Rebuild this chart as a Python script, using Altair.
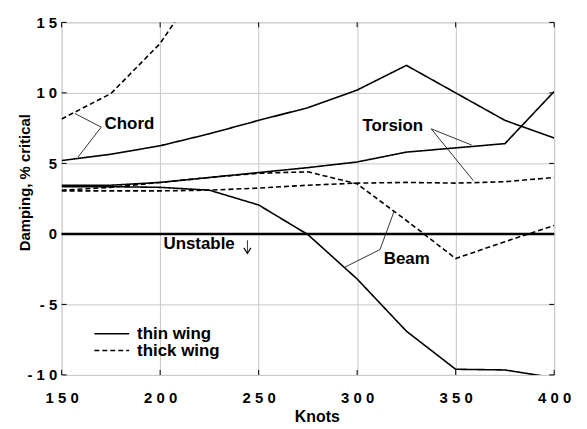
import altair as alt
import pandas as pd

# ---- data ----
knots = [150, 175, 200, 225, 250, 275, 300, 325, 350, 375, 400]
chord_thin = [5.2, 5.65, 6.25, 7.1, 8.05, 8.95, 10.2, 11.95, 10.0, 8.05, 6.8]
torsion_thin = [3.45, 3.45, 3.65, 4.0, 4.35, 4.7, 5.1, 5.8, 6.1, 6.4, 10.1]
beam_thin = [3.35, 3.35, 3.3, 3.1, 2.05, -0.05, -3.2, -6.9, -9.6, -9.65, -10.2]

knots_chord_thick = [150, 175, 200, 225]
chord_thick = [8.15, 9.95, 13.5, 18.7]
torsion_thick = [3.05, 3.05, 3.05, 3.1, 3.25, 3.45, 3.6, 3.65, 3.6, 3.7, 4.0]
beam_thick = [3.1, 3.3, 3.65, 4.0, 4.3, 4.4, 3.55, 0.95, -1.75, -0.55, 0.6]

wing_names = ["thin wing", "thick wing"]
x_ticks = [150, 200, 250, 300, 350, 400]
y_ticks = [-10, -5, 0, 5, 10, 15]

# annotation labels (knots, damping)
label_text = ["Chord", "Torsion", "Beam", "Unstable"]
label_x = [171.8, 302.7, 313.5, 201.7]
label_y = [7.41, 7.29, -2.17, -1.09]

# leader lines (x, y, x2, y2)
lead_x = [170.1, 170.1, 337.6, 337.6, 293.5, 311.6, 244.3]
lead_y = [7.57, 7.57, 7.45, 7.45, -2.38, -1.11, -0.45]
lead_x2 = [156.7, 158.4, 358.1, 359.0, 311.6, 318.7, 244.3]
lead_y2 = [8.54, 5.46, 6.30, 3.77, -1.11, 1.58, -1.39]
arrow_x = [244.3]
arrow_y = [-1.39]

FONT = "Liberation Sans"

rows = []
for mode, vals in [("Chord", chord_thin), ("Torsion", torsion_thin), ("Beam", beam_thin)]:
    for k, v in zip(knots, vals):
        rows.append({"wing": "thin wing", "mode": mode, "knots": k, "damping": v})
for k, v in zip(knots_chord_thick, chord_thick):
    rows.append({"wing": "thick wing", "mode": "Chord", "knots": k, "damping": v})
for mode, vals in [("Torsion", torsion_thick), ("Beam", beam_thick)]:
    for k, v in zip(knots, vals):
        rows.append({"wing": "thick wing", "mode": mode, "knots": k, "damping": v})
df = pd.DataFrame(rows)

xscale = alt.Scale(domain=[150, 400], nice=False, zero=False)
yscale = alt.Scale(domain=[-10, 15], nice=False, zero=False)

spaced = "join(split(toString(datum.value), ''), ' ')"

xaxis = alt.Axis(values=x_ticks, labelExpr=spaced, title="Knots", grid=True,
                 gridColor="#c8c8c8", gridWidth=1, ticks=False, domain=False,
                 labelFont=FONT, labelFontSize=15, labelFontWeight="bold",
                 labelColor="black", labelPadding=16, titleFont=FONT,
                 titleFontSize=16, titleFontWeight="bold", titleColor="black",
                 titleX=257, titleY=42, titleBaseline="middle", labelFlush=False)
yaxis = alt.Axis(values=y_ticks, labelExpr=spaced, title="Damping, % critical",
                 grid=True, gridColor="#c8c8c8", gridWidth=1, ticks=False,
                 domain=False, labelFont=FONT, labelFontSize=15,
                 labelFontWeight="bold", labelColor="black", labelPadding=5,
                 titleFont=FONT, titleFontSize=15, titleFontWeight="bold",
                 titleColor="black", titleAngle=-90, titleX=-37, titleY=161,
                 titleAlign="center", titleBaseline="middle", labelFlush=False)

lines = alt.Chart(df).mark_line(clip=True, strokeWidth=1.6, color="black").encode(
    x=alt.X("knots:Q", scale=xscale, axis=xaxis),
    y=alt.Y("damping:Q", scale=yscale, axis=yaxis),
    strokeDash=alt.StrokeDash(
        "wing:N",
        scale=alt.Scale(domain=wing_names, range=[[1, 0], [5, 3]]),
        legend=alt.Legend(title=None, orient="none", legendX=42, legendY=305,
                          symbolType="M-2.5,0L2.5,0", symbolSize=196,
                          symbolStrokeWidth=1.6, symbolStrokeColor="black",
                          labelFont=FONT, labelFontSize=17,
                          labelFontWeight="bold", labelColor="black",
                          labelOffset=17, rowPadding=-3, padding=0),
    ),
    detail="mode:N",
    order="knots:Q",
)

zero = alt.Chart(pd.DataFrame({"y": [0]})).mark_rule(
    color="black", strokeWidth=2.5).encode(y=alt.Y("y:Q", scale=yscale))

xt = pd.DataFrame({"v": x_ticks})
yt = pd.DataFrame({"v": y_ticks})
tick_b = alt.Chart(xt).mark_rule(color="black", strokeWidth=1).encode(
    x=alt.X("v:Q", scale=xscale), y=alt.value(355), y2=alt.value(350))
tick_t = alt.Chart(xt).mark_rule(color="black", strokeWidth=1).encode(
    x=alt.X("v:Q", scale=xscale), y=alt.value(0), y2=alt.value(5))
tick_l = alt.Chart(yt).mark_rule(color="black", strokeWidth=1).encode(
    y=alt.Y("v:Q", scale=yscale), x=alt.value(0), x2=alt.value(5))
tick_r = alt.Chart(yt).mark_rule(color="black", strokeWidth=1).encode(
    y=alt.Y("v:Q", scale=yscale), x=alt.value(496), x2=alt.value(491))

leads = alt.Chart(pd.DataFrame({"x": lead_x, "y": lead_y, "x2": lead_x2, "y2": lead_y2})
                  ).mark_rule(color="black", strokeWidth=0.8).encode(
    x=alt.X("x:Q", scale=xscale), y=alt.Y("y:Q", scale=yscale), x2="x2:Q", y2="y2:Q")

arrow = alt.Chart(pd.DataFrame({"x": arrow_x, "y": arrow_y})).mark_point(
    shape="M-1,-1.6L0,0L1,-1.6", filled=False, color="black", strokeWidth=1.2,
    size=50, opacity=1).encode(
    x=alt.X("x:Q", scale=xscale), y=alt.Y("y:Q", scale=yscale))

labels = alt.Chart(pd.DataFrame({"t": label_text, "x": label_x, "y": label_y})).mark_text(
    align="left", baseline="alphabetic", font=FONT, fontSize=17,
    fontWeight="bold", color="black").encode(
    x=alt.X("x:Q", scale=xscale), y=alt.Y("y:Q", scale=yscale), text="t:N")

chart = alt.layer(lines, zero, tick_b, tick_t, tick_l, tick_r, leads, arrow, labels).properties(
    width=496, height=355,
    autosize=alt.AutoSizeParams(type="none"),
    padding={"left": 54, "top": 13, "right": 25, "bottom": 52},
).configure_view(stroke="black", strokeWidth=1.5).configure(background="white")

chart.save("out.html", embed_options={"renderer": "svg", "actions": False})
